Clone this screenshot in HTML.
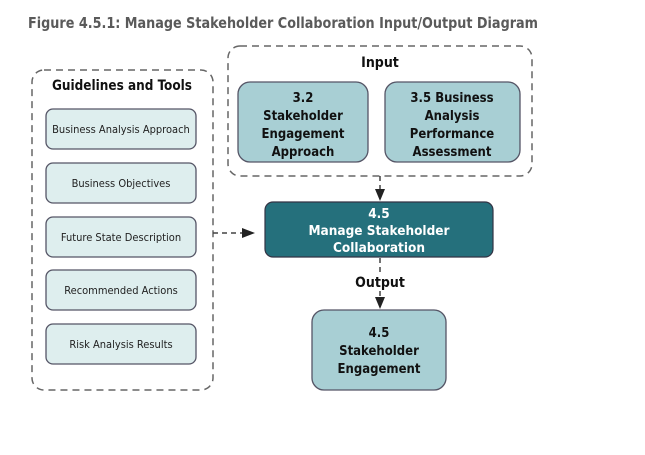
<!DOCTYPE html>
<html><head><style>
body{margin:0;background:#fff;}
svg{display:block;font-family:"DejaVu Sans Condensed","Liberation Sans Narrow","Liberation Sans",sans-serif;}
</style></head><body>
<svg width="645" height="455" viewBox="0 0 645 455" xmlns="http://www.w3.org/2000/svg">
<text x="28" y="28" font-size="15" font-weight="bold" fill="#5a5a5a" textLength="510" lengthAdjust="spacingAndGlyphs">Figure 4.5.1: Manage Stakeholder Collaboration Input/Output Diagram</text>
<rect x="32" y="70" width="181" height="320" rx="12" fill="none" stroke="#666" stroke-width="1.5" stroke-dasharray="7,5"/>
<text x="122" y="90" font-size="14" font-weight="bold" text-anchor="middle" fill="#111" textLength="140" lengthAdjust="spacingAndGlyphs">Guidelines and Tools</text>
<g fill="#deeeee" stroke="#556" stroke-width="1.3">
<rect x="46" y="109" width="150" height="40" rx="7"/>
<rect x="46" y="163" width="150" height="40" rx="7"/>
<rect x="46" y="217" width="150" height="40" rx="7"/>
<rect x="46" y="270" width="150" height="40" rx="7"/>
<rect x="46" y="324" width="150" height="40" rx="7"/>
</g>
<g font-size="11" text-anchor="middle" fill="#222">
<text x="121" y="133">Business Analysis Approach</text>
<text x="121" y="187">Business Objectives</text>
<text x="121" y="241">Future State Description</text>
<text x="121" y="294">Recommended Actions</text>
<text x="121" y="348">Risk Analysis Results</text>
</g>
<rect x="228" y="46" width="304" height="130" rx="12" fill="none" stroke="#666" stroke-width="1.5" stroke-dasharray="7,5"/>
<text x="380" y="67" font-size="14" font-weight="bold" text-anchor="middle" fill="#111">Input</text>
<g fill="#a8cfd4" stroke="#556" stroke-width="1.3">
<rect x="238" y="82" width="130" height="80" rx="12"/>
<rect x="385" y="82" width="135" height="80" rx="12"/>
<rect x="312" y="310" width="134" height="80" rx="12"/>
</g>
<g font-size="13" font-weight="bold" text-anchor="middle" fill="#111">
<text x="303" y="102">3.2</text><text x="303" y="120">Stakeholder</text><text x="303" y="138">Engagement</text><text x="303" y="156">Approach</text>
<text x="452" y="102">3.5 Business</text><text x="452" y="120">Analysis</text><text x="452" y="138">Performance</text><text x="452" y="156">Assessment</text>
<text x="379" y="337">4.5</text><text x="379" y="355">Stakeholder</text><text x="379" y="373">Engagement</text>
<text x="380" y="287" font-size="14">Output</text>
</g>
<rect x="265" y="202" width="228" height="55" rx="8" fill="#25707c" stroke="#334" stroke-width="1.2"/>
<g font-size="13.5" font-weight="bold" text-anchor="middle" fill="#fff">
<text x="379" y="218">4.5</text><text x="379" y="235">Manage Stakeholder</text><text x="379" y="252">Collaboration</text>
</g>
<g stroke="#444" stroke-width="1.5" stroke-dasharray="5,4" fill="none">
<line x1="380" y1="176" x2="380" y2="190"/>
<line x1="380" y1="258" x2="380" y2="272"/>
<line x1="380" y1="291" x2="380" y2="298"/>
<line x1="213" y1="233" x2="245" y2="233"/>
</g>
<g fill="#222">
<polygon points="375,189 385,189 380,201"/>
<polygon points="375,297 385,297 380,309"/>
<polygon points="242,228 242,238 255,233"/>
</g>
</svg>
</body></html>
